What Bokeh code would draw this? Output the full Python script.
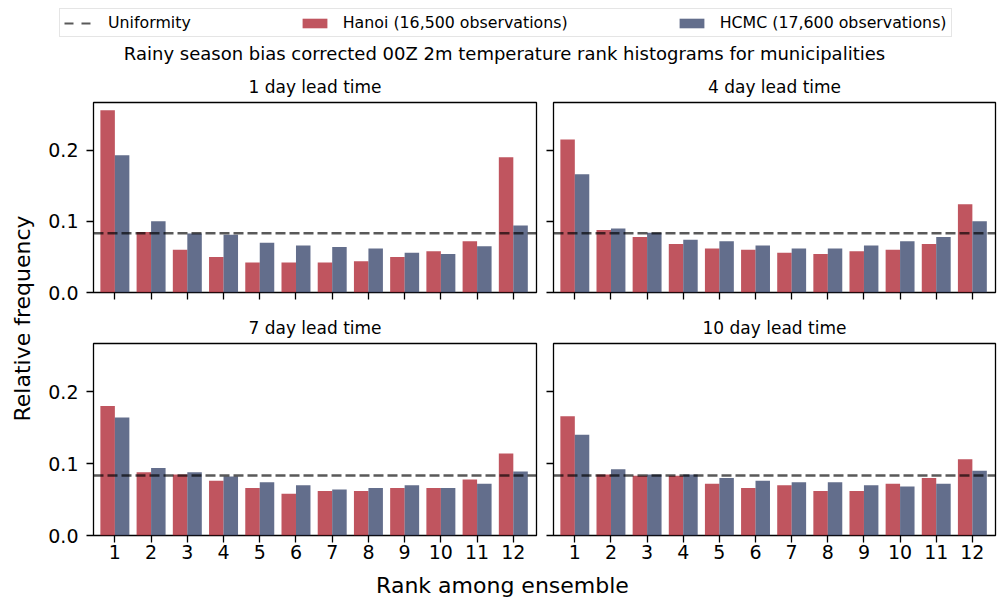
import numpy as np
from bokeh.plotting import figure
from bokeh.layouts import column, row
from bokeh.models import (Range1d, FixedTicker, PrintfTickFormatter, Span, Legend,
                          LegendItem, Label, ColumnDataSource)
from bokeh.transform import dodge
from bokeh.embed import file_html
from bokeh.resources import INLINE

# ---------------- data ----------------
ranks = list(range(1, 13))
lead_titles = ["1 day lead time", "4 day lead time", "7 day lead time", "10 day lead time"]

hanoi_1d = [0.256, 0.085, 0.060, 0.050, 0.042, 0.042, 0.042, 0.044, 0.050, 0.058, 0.072, 0.190]
hcmc_1d = [0.193, 0.100, 0.083, 0.081, 0.070, 0.066, 0.064, 0.062, 0.056, 0.054, 0.065, 0.094]

hanoi_4d = [0.215, 0.088, 0.078, 0.068, 0.062, 0.060, 0.056, 0.054, 0.058, 0.060, 0.068, 0.124]
hcmc_4d = [0.166, 0.090, 0.084, 0.074, 0.072, 0.066, 0.062, 0.062, 0.066, 0.072, 0.078, 0.100]

hanoi_7d = [0.180, 0.088, 0.085, 0.076, 0.066, 0.058, 0.062, 0.062, 0.066, 0.066, 0.078, 0.114]
hcmc_7d = [0.164, 0.094, 0.088, 0.082, 0.074, 0.070, 0.064, 0.066, 0.070, 0.066, 0.072, 0.089]

hanoi_10d = [0.166, 0.085, 0.083, 0.083, 0.072, 0.066, 0.070, 0.062, 0.062, 0.072, 0.080, 0.106]
hcmc_10d = [0.140, 0.092, 0.085, 0.085, 0.080, 0.076, 0.074, 0.074, 0.070, 0.068, 0.072, 0.090]

y_ticks = [0.0, 0.1, 0.2]
uniform_value = 1.0 / len(ranks)

legend_labels = ["Uniformity", "Hanoi (16,500 observations)", "HCMC (17,600 observations)"]
suptitle = "Rainy season bias corrected 00Z 2m temperature rank histograms for municipalities"
x_label = "Rank among ensemble"
y_label = "Relative frequency"

# ---------------- style ----------------
RED = "#B02A37"
BLUE = "#3C4A6F"
BAR_ALPHA = 0.8
FONT = "DejaVu Sans"
TICK_FONT = "19px"


def style_axes(p, show_x_labels, show_y_labels):
    p.xgrid.visible = False
    p.ygrid.visible = False
    p.outline_line_color = "black"
    p.outline_line_width = 1.3
    p.outline_line_alpha = 1.0
    for ax in (p.xaxis[0], p.yaxis[0]):
        ax.axis_line_color = None
        ax.major_tick_line_color = "black"
        ax.major_tick_line_width = 1.3
        ax.major_tick_out = 7
        ax.major_tick_in = 0
        ax.minor_tick_line_color = None
        ax.major_label_text_font = FONT
        ax.major_label_text_color = "black"
        ax.major_label_text_font_size = TICK_FONT
    p.xaxis[0].ticker = FixedTicker(ticks=ranks)
    p.yaxis[0].ticker = FixedTicker(ticks=y_ticks)
    p.yaxis[0].formatter = PrintfTickFormatter(format="%.1f")
    p.xaxis[0].major_label_standoff = 2
    p.yaxis[0].major_label_standoff = 8
    if not show_x_labels:
        p.xaxis[0].major_label_overrides = {r: "" for r in ranks}
        p.xaxis[0].major_label_standoff = 0
    if not show_y_labels:
        p.yaxis[0].major_label_overrides = {t: "" for t in y_ticks}
        p.yaxis[0].major_label_standoff = 0


def make_panel(title, hanoi, hcmc, w, h, bl, br, bt, bb, show_x, show_y):
    p = figure(width=w, height=h, x_range=Range1d(0.41, 12.64), y_range=Range1d(0, 0.267),
               output_backend="svg", toolbar_location=None, title=title,
               min_border_left=bl, min_border_right=br, min_border_top=bt,
               min_border_bottom=bb, background_fill_color="white",
               border_fill_color="white")
    p.title.align = "center"
    p.title.text_font_size = "17px"
    p.title.text_font_style = "normal"
    p.title.text_font = FONT
    p.title.text_color = "black"
    p.title.standoff = 11
    src = ColumnDataSource(dict(rank=ranks, hanoi=hanoi, hcmc=hcmc))
    p.vbar(x=dodge("rank", -0.2, range=p.x_range), top="hanoi", width=0.4, source=src,
           fill_color=RED, fill_alpha=BAR_ALPHA, line_color=None)
    p.vbar(x=dodge("rank", 0.2, range=p.x_range), top="hcmc", width=0.4, source=src,
           fill_color=BLUE, fill_alpha=BAR_ALPHA, line_color=None)
    p.add_layout(Span(location=uniform_value, dimension="width", line_color="black",
                      line_alpha=0.65, line_dash="10 4", line_width=2.5))
    style_axes(p, show_x, show_y)
    return p


HEADER_H = 69
tl = make_panel(lead_titles[0], hanoi_1d, hcmc_1d, 495, 239, 48, 4, 33, 16, False, True)
tr = make_panel(lead_titles[1], hanoi_4d, hcmc_4d, 457, 239, 13, 2, 33, 16, False, False)
bl = make_panel(lead_titles[2], hanoi_7d, hcmc_7d, 495, 262, 48, 4, 35, 35, True, True)
br = make_panel(lead_titles[3], hanoi_10d, hcmc_10d, 457, 262, 13, 2, 35, 35, True, False)

# ---------------- header: legend + title ----------------
header = figure(width=997, height=HEADER_H, x_range=Range1d(0, 997),
                y_range=Range1d(HEADER_H, 0), x_axis_type=None, y_axis_type=None,
                output_backend="svg", toolbar_location=None, min_border=0)
header.grid.visible = False
header.outline_line_color = None
nan = [float("nan")]
# legend-only proxy renderers (a single NaN point: nothing is drawn in the plot area)
r_line = header.line(x=nan, y=nan, line_color="black", line_alpha=0.65, line_dash="9 8",
                     line_width=2)
r_han = header.vbar(x=nan, top=nan, width=0.4, fill_color=RED, fill_alpha=BAR_ALPHA,
                    line_color=None)
r_hc = header.vbar(x=nan, top=nan, width=0.4, fill_color=BLUE, fill_alpha=BAR_ALPHA,
                   line_color=None)
legend = Legend(items=[LegendItem(label=legend_labels[0], renderers=[r_line]),
                       LegendItem(label=legend_labels[1], renderers=[r_han]),
                       LegendItem(label=legend_labels[2], renderers=[r_hc])],
                orientation="horizontal", location=(59, HEADER_H - 37), spacing=108,
                glyph_width=31, glyph_height=12, label_standoff=13, padding=4, margin=0,
                label_text_font_size="15.8px", label_text_font=FONT,
                label_text_color="black", label_height=19,
                border_line_color="#cccccc", border_line_width=1,
                background_fill_alpha=0.8)
header.add_layout(legend)
header.add_layout(Label(x=504, y=53, text=suptitle, text_align="center",
                        text_baseline="alphabetic", text_font_size="18px",
                        text_font=FONT, text_color="black"))

# ---------------- y label ----------------
YF_H = 239 + 262
yfig = figure(width=45, height=YF_H, x_range=Range1d(0, 45), y_range=Range1d(YF_H, 0),
              x_axis_type=None, y_axis_type=None, output_backend="svg",
              toolbar_location=None, min_border=0)
yfig.grid.visible = False
yfig.outline_line_color = None
yfig.add_layout(Label(x=22, y=318 - HEADER_H, text=y_label, angle=np.pi / 2,
                      text_align="center", text_baseline="middle", text_font_size="22px",
                      text_font=FONT, text_color="black"))

# ---------------- x label ----------------
xfig = figure(width=997, height=30, x_range=Range1d(0, 997), y_range=Range1d(30, 0),
              x_axis_type=None, y_axis_type=None, output_backend="svg",
              toolbar_location=None, min_border=0)
xfig.grid.visible = False
xfig.outline_line_color = None
xfig.add_layout(Label(x=502, y=15, text=x_label, text_align="center",
                      text_baseline="middle", text_font_size="22px", text_font=FONT,
                      text_color="black"))

layout = column(header,
                row(yfig, column(row(tl, tr), row(bl, br))),
                xfig)

open("out.html", "w").write(file_html(layout, INLINE))
